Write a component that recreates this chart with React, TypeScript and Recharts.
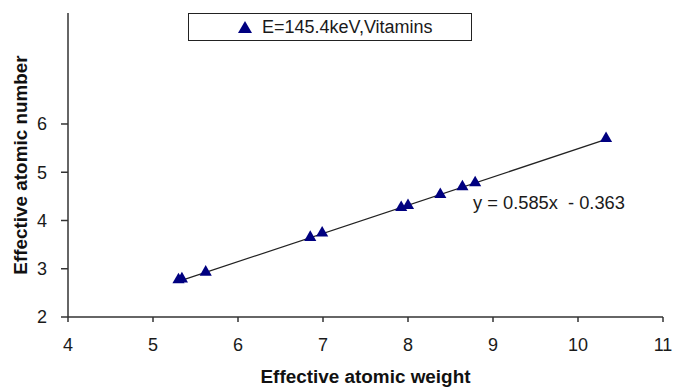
import {
  ScatterChart,
  Scatter,
  XAxis,
  YAxis,
  ZAxis,
  ReferenceLine,
  ReferenceDot,
  Legend,
} from 'recharts';

// effective atomic weight / number per vitamin sample at 145.4 keV
const weights = [5.3, 5.34, 5.62, 6.85, 6.99, 7.92, 8.0, 8.38, 8.64, 8.79, 10.33];
const numbers = [2.77, 2.79, 2.93, 3.65, 3.74, 4.27, 4.31, 4.54, 4.7, 4.78, 5.7];

const xTicks = [4, 5, 6, 7, 8, 9, 10, 11];
const yTicks = [2, 3, 4, 5, 6];

// fitted trend line shown on the chart
const slope = 0.585;
const intercept = -0.363;
const equationText = 'y = 0.585x\u00a0 - 0.363';
const seriesName = 'E=145.4keV,Vitamins';

const FONT = '"Liberation Sans", Arial, sans-serif';
const NAVY = '#000080';
const AXIS = '#333';

const points = weights.map((w, i) => ({ x: w, y: numbers[i] }));
const minX = Math.min(...weights);
const maxX = Math.max(...weights);

function LegendBox() {
  return (
    <div
      style={{
        width: 282,
        height: 26,
        border: '1.5px solid #222',
        background: '#fff',
        display: 'flex',
        alignItems: 'center',
        fontFamily: FONT,
        fontSize: 18,
        color: '#1a1a1a',
        boxSizing: 'content-box',
      }}
    >
      <svg width={14} height={12} style={{ marginLeft: 49, marginRight: 10 }}>
        <polygon points="7,0 14,12 0,12" fill={NAVY} />
      </svg>
      <span>{seriesName}</span>
    </div>
  );
}

export default function App() {
  return (
    <div style={{ position: 'absolute', left: 0, top: 0, background: '#fff' }}>
      <ScatterChart
        width={674}
        height={388}
        margin={{ top: 13, right: 11, bottom: 0, left: 0 }}
        style={{ fontFamily: FONT }}
      >
        <XAxis
          type="number"
          dataKey="x"
          domain={[4, 11]}
          ticks={xTicks}
          height={71}
          tickSize={5}
          tickMargin={16}
          stroke={AXIS}
          strokeWidth={1.5}
          tick={{ fill: '#1a1a1a', fontSize: 18 }}
          label={{
            value: 'Effective atomic weight',
            position: 'insideBottom',
            offset: 5,
            style: { fontWeight: 'bold', fontSize: 18.9, fill: '#111' },
          }}
        />
        <YAxis
          type="number"
          dataKey="y"
          domain={[2, 8.3]}
          ticks={yTicks}
          width={68}
          tickSize={7}
          tickMargin={14}
          stroke={AXIS}
          strokeWidth={1.5}
          tick={{ fill: '#1a1a1a', fontSize: 18 }}
          label={{
            value: 'Effective atomic number',
            angle: -90,
            position: 'insideLeft',
            offset: 20,
            style: { fontWeight: 'bold', fontSize: 18.9, fill: '#111', textAnchor: 'middle' },
          }}
        />
        <ZAxis range={[62, 62]} />
        <ReferenceLine
          segment={[
            { x: minX, y: slope * minX + intercept },
            { x: maxX, y: slope * maxX + intercept },
          ]}
          stroke="#222"
          strokeWidth={1.3}
          ifOverflow="visible"
        />
        <ReferenceDot
          x={8.765}
          y={4.38}
          r={0}
          fill="none"
          stroke="none"
          ifOverflow="visible"
          label={{
            value: equationText,
            position: 'right',
            offset: 0,
            style: { fontSize: 18.3, fill: '#1a1a1a' },
          }}
        />
        <Scatter
          name={seriesName}
          data={points}
          shape="triangle"
          fill={NAVY}
          isAnimationActive={false}
        />
        <Legend
          layout="vertical"
          align="center"
          verticalAlign="middle"
          wrapperStyle={{ top: 13, left: 188, width: 285, height: 29 }}
          content={() => <LegendBox />}
        />
      </ScatterChart>
    </div>
  );
}
